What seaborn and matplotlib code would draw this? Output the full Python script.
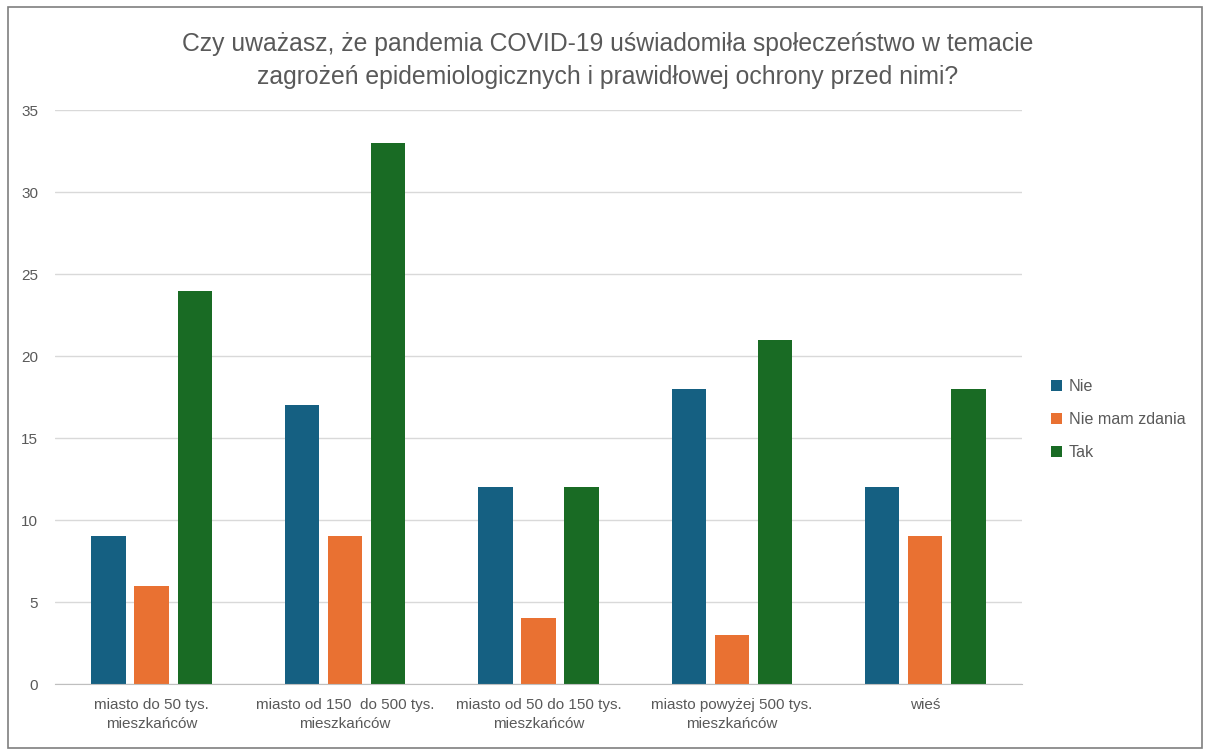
import matplotlib

matplotlib.use("Agg")

import matplotlib.pyplot as plt
import pandas as pd
import seaborn as sns
from matplotlib.patches import Rectangle

categories = [
    "miasto do 50 tys.\nmieszkańców",
    "miasto od 150  do 500 tys.\nmieszkańców",
    "miasto od 50 do 150 tys.\nmieszkańców",
    "miasto powyżej 500 tys.\nmieszkańców",
    "wieś",
]
series = ["Nie", "Nie mam zdania", "Tak"]
nie = [9, 17, 12, 18, 12]
nie_mam_zdania = [6, 9, 4, 3, 9]
tak = [24, 33, 12, 21, 18]
colors = ["#156082", "#E97132", "#196B24"]

df = pd.DataFrame({
    "Kategoria": categories * 3,
    "Odpowiedź": [s for s in series for _ in categories],
    "Liczba": nie + nie_mam_zdania + tak,
})

sns.set_style("white")
plt.rcParams["font.family"] = ["Liberation Sans", "DejaVu Sans"]

fig = plt.figure(figsize=(12.08, 7.55), dpi=100)
ax = fig.add_axes([0.0455, 0.094, 0.8005, 0.760])

sns.barplot(data=df, x="Kategoria", y="Liczba", hue="Odpowiedź",
            palette=colors, width=0.668, gap=0.2, saturation=1,
            linewidth=0, ax=ax)

ax.set_ylim(0, 35)
ax.set_yticks(range(0, 36, 5))
ax.set_xlim(-0.5, len(categories) - 0.5)
ax.grid(axis="y", color="#d9d9d9", linewidth=1)
ax.set_axisbelow(True)
for side in ["top", "right", "left"]:
    ax.spines[side].set_visible(False)
ax.spines["bottom"].set_color("#bfbfbf")
ax.set_xlabel("")
ax.set_ylabel("")
ax.tick_params(axis="both", length=0, colors="#595959", labelsize=11)
ax.tick_params(axis="y", pad=12)
ax.tick_params(axis="x", pad=10)
for lbl in ax.get_xticklabels():
    lbl.set_linespacing(1.45)

fig.suptitle("Czy uważasz, że pandemia COVID-19 uświadomiła społeczeństwo w temacie\n"
             "zagrożeń epidemiologicznych i prawidłowej ochrony przed nimi?",
             x=0.503, y=0.958, fontsize=17.8, color="#595959", linespacing=1.5)

ax.legend(title=None, frameon=False, loc="center left", bbox_to_anchor=(0.858, 0.444),
          bbox_transform=fig.transFigure, handlelength=0.7, handleheight=0.7,
          handletextpad=0.4, labelspacing=1.12, fontsize=11.6, labelcolor="#595959")

fig.patches.append(Rectangle((0.007, 0.009), 0.988, 0.982, transform=fig.transFigure,
                             fill=False, edgecolor="#7f7f7f", linewidth=1.2))

fig.savefig("out.png", dpi=100)
plt.close(fig)
